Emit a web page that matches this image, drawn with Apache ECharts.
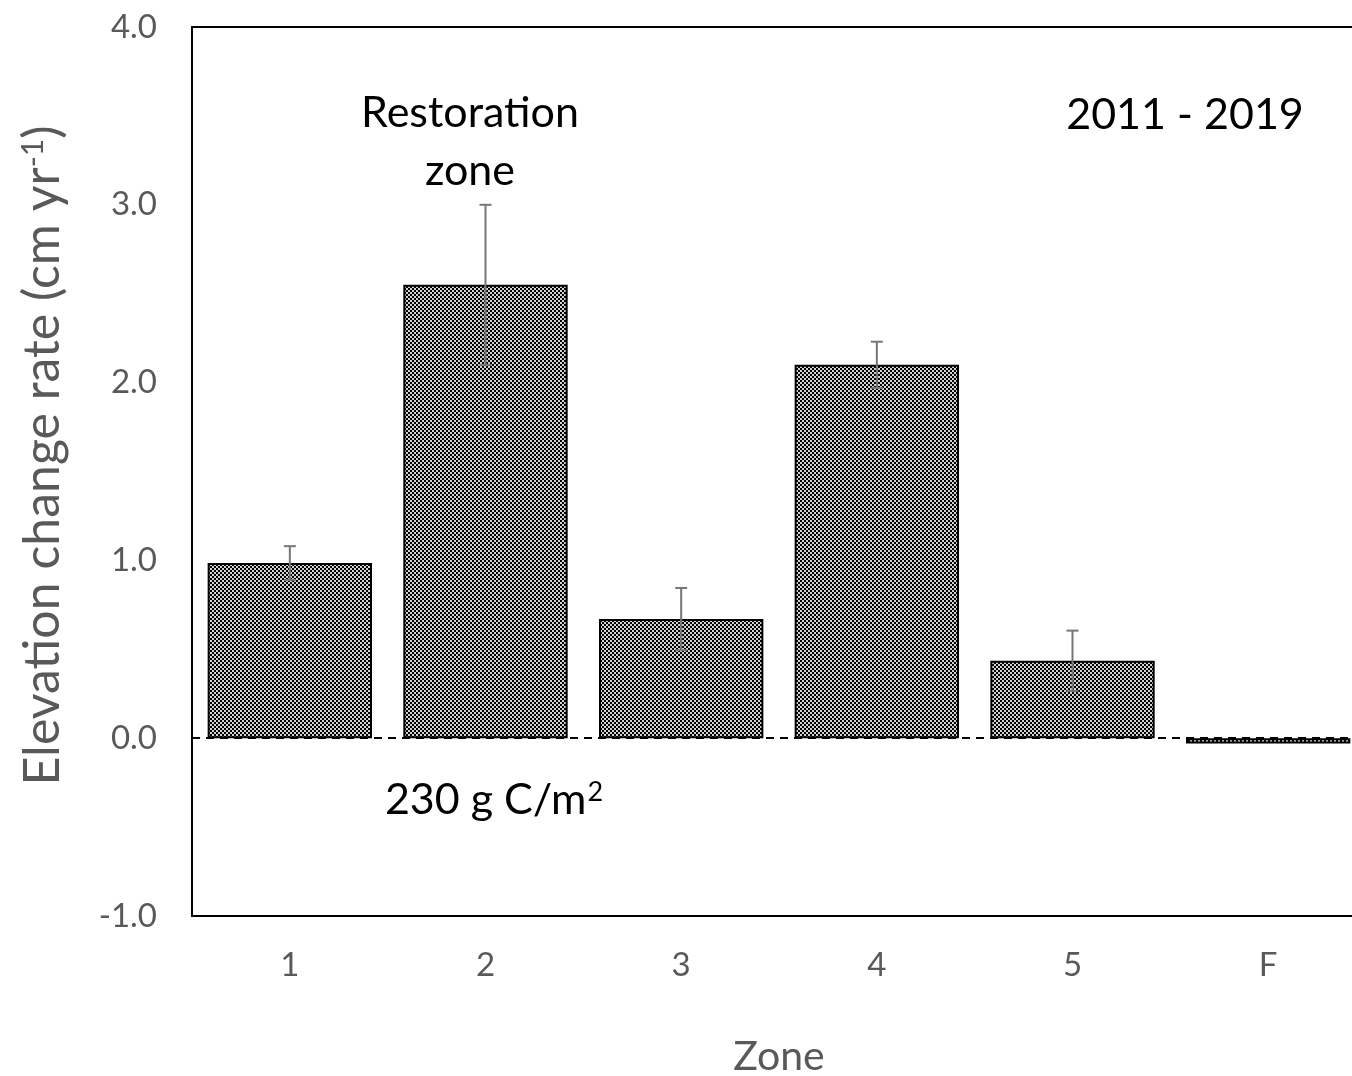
<!DOCTYPE html>
<html>
<head>
<meta charset="utf-8">
<script src="https://cdn.jsdelivr.net/npm/echarts@6/dist/echarts.min.js"></script>
<style>
  html, body { margin: 0; padding: 0; background: #fff; }
  #chart { width: 1352px; height: 1076px; }
</style>
</head>
<body>
<div id="chart"></div>
<script>
// 数据
const zones = ['1', '2', '3', '4', '5', 'F']
const rates = [0.985, 2.55, 0.67, 2.10, 0.435, -0.03]
const errors = [0.095, 0.45, 0.175, 0.13, 0.17, null]
const yTicks = [-1, 0, 1, 2, 3, 4]

// 棋盘格填充
const makePattern = () => {
  const c = document.createElement('canvas')
  c.width = 4
  c.height = 4
  const ctx = c.getContext('2d')
  ctx.fillStyle = '#d4d4d4'
  ctx.fillRect(0, 0, 4, 4)
  ctx.fillStyle = '#000'
  ctx.fillRect(0, 0, 2, 2)
  ctx.fillRect(2, 2, 2, 2)
  return c
}

const font = 'Lato, "Open Sans", sans-serif'
const chart = echarts.init(document.getElementById('chart'), null, { renderer: 'canvas' })

const errData = []
zones.forEach((z, i) => {
  if (errors[i] != null) errData.push([i, rates[i] - errors[i], rates[i] + errors[i]])
})

const option = {
  backgroundColor: '#fff',
  animation: false,
  grid: {
    left: 192,
    top: 27,
    width: 1174,
    height: 889,
    outerBoundsMode: 'none',
    containLabel: false,
    show: true,
    borderColor: '#000',
    borderWidth: 2,
    backgroundColor: 'transparent'
  },
  xAxis: {
    type: 'category',
    data: zones,
    name: 'Zone',
    nameLocation: 'middle',
    nameGap: 120,
    nameTextStyle: { fontFamily: font, fontSize: 41, color: '#595959' },
    axisLine: { show: true, onZero: false, lineStyle: { color: '#000', width: 2 } },
    axisTick: { show: false },
    axisLabel: { margin: 33, fontFamily: font, fontSize: 33, color: '#595959' },
    splitLine: { show: false }
  },
  yAxis: {
    type: 'value',
    min: yTicks[0],
    max: yTicks[yTicks.length - 1],
    interval: 1,
    name: '{t|Elevation change rate (cm yr}{s|-1}{t|)}',
    nameLocation: 'middle',
    nameGap: 124,
    nameTextStyle: {
      padding: [0, 0, 0, 32],
      rich: {
        t: { fontFamily: font, fontSize: 50, color: '#595959' },
        s: { fontFamily: font, fontSize: 30, color: '#595959', verticalAlign: 'top', padding: [0, 0, 20, 0] }
      }
    },
    axisLine: { show: true, lineStyle: { color: '#000', width: 2 } },
    axisTick: { show: false },
    axisLabel: {
      margin: 35,
      fontFamily: font,
      fontSize: 33,
      color: '#595959',
      formatter: (v) => v.toFixed(1)
    },
    splitLine: { show: false }
  },
  series: [
    {
      type: 'bar',
      data: rates,
      barCategoryGap: '16%',
      itemStyle: {
        color: { image: makePattern(), repeat: 'repeat' },
        borderColor: '#000',
        borderWidth: 2
      },
      markLine: {
        silent: true,
        symbol: 'none',
        label: { show: false },
        lineStyle: { color: '#000', width: 2, type: [8, 6] },
        data: [{ yAxis: 0 }]
      },
      z: 2
    },
    {
      type: 'custom',
      data: errData,
      z: 3,
      renderItem: (params, api) => {
        const x = api.value(0)
        const lo = api.coord([x, api.value(1)])
        const hi = api.coord([x, api.value(2)])
        const hw = 6
        const st = { stroke: '#767676', lineWidth: 2 }
        return {
          type: 'group',
          children: [
            { type: 'line', shape: { x1: hi[0], y1: hi[1], x2: lo[0], y2: lo[1] }, style: st },
            { type: 'line', shape: { x1: hi[0] - hw, y1: hi[1], x2: hi[0] + hw, y2: hi[1] }, style: st },
            { type: 'line', shape: { x1: lo[0] - hw, y1: lo[1], x2: lo[0] + hw, y2: lo[1] }, style: st }
          ]
        }
      }
    }
  ],
  graphic: [
    {
      type: 'text',
      x: 470,
      y: 142,
      style: {
        text: 'Restoration\nzone',
        align: 'center',
        verticalAlign: 'middle',
        fontFamily: font,
        fontSize: 43,
        lineHeight: 58,
        fill: '#000'
      }
    },
    {
      type: 'text',
      x: 1185,
      y: 115,
      style: { text: '2011 - 2019', align: 'center', verticalAlign: 'middle', fontFamily: font, fontSize: 43, fill: '#000' }
    },
    {
      type: 'text',
      x: 494,
      y: 800,
      style: {
        text: '{a|230 g C/m}{s|2}',
        align: 'center',
        verticalAlign: 'middle',
        rich: {
          a: { fontFamily: font, fontSize: 43, fill: '#000', color: '#000' },
          s: { fontFamily: font, fontSize: 27, fill: '#000', color: '#000', verticalAlign: 'top', padding: [0, 0, 16, 1] }
        }
      }
    }
  ]
}

chart.setOption(option)
</script>
</body>
</html>
